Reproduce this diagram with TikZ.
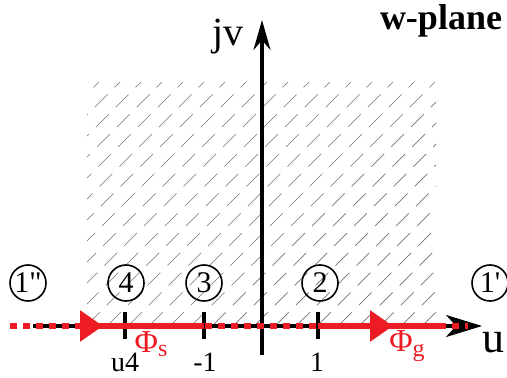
\documentclass[tikz,border=0pt]{standalone}
\usepackage{fontspec}
\setmainfont{Liberation Serif}
\usetikzlibrary{arrows.meta,decorations.markings}
\definecolor{flowred}{RGB}{237,28,36}

\begin{document}
\begin{tikzpicture}[x=0.5pt,y=-0.5pt,
  axis/.style={line width=1.6pt,black},
  tickmark/.style={line width=1.6pt,black},
  region/.style={draw,circle,line width=0.8pt,minimum size=18pt,inner sep=0pt,font=\fontsize{15}{15}\selectfont},
  hatch/.style={black!55,line width=0.35pt,dash pattern=on 9pt off 5pt},
  flowdash/.style={flowred,line width=3pt,dash pattern=on 3.5pt off 3pt},
  flow/.style={flowred,line width=3pt},
  tri/.style={postaction={decorate,decoration={markings,
    mark=at position #1 with {\arrow{Triangle[length=11.5pt,width=15pt]}}}}},
  ticklbl/.style={font=\fontsize{14}{14}\selectfont},
  flowlbl/.style={text=flowred,font=\fontsize{16}{16}\selectfont}
]
  \useasboundingbox (0,0) rectangle (507,378);

  % hatched half plane
  \begin{scope}
    \clip (87,83) rectangle (436,325);
    \foreach \k in {-12,...,17}
      \draw[hatch] (87+21*\k,325) -- ++(270,-270);
  \end{scope}

  % axes
  \coordinate (vbot) at (262,355);
  \coordinate (vtop) at (262,20);
  \coordinate (ubeg) at (33,326);
  \coordinate (uend) at (482,326);
  \draw[axis,-{Stealth[length=15pt,width=8.5pt]}] (vbot) -- (vtop);
  \draw[axis,-{Stealth[length=18pt,width=11pt,inset=5pt]}] (ubeg) -- (uend);

  % ticks
  \coordinate (u4) at (125,326);
  \coordinate (m1) at (204,326);
  \coordinate (p1) at (318,326);
  \foreach \t in {u4,m1,p1}
    \draw[tickmark] ([yshift=7pt]\t) -- ([yshift=-6.5pt]\t);

  % flow along the u axis
  \coordinate (rbeg) at (10,326);
  \coordinate (rend) at (468,326);
  \coordinate (sbeg) at (82,326);
  \coordinate (gend) at (445,326);
  \draw[flowdash] (rbeg) -- (rend);
  \draw[flow,tri=10.5pt] (sbeg) -- (m1);
  \draw[flow,tri=37.5pt] (p1) -- (gend);

  % region labels
  \node[region] (r1pp) at (28,283) {1\textquotedbl};
  \node[region] (r4) at (126,283) {4};
  \node[region] (r3) at (204,283) {3};
  \node[region] (r2) at (320,283) {2};
  \node[region] (r1p) at (490,283) {1\textquotesingle};

  % text
  \node[ticklbl] (lu4) at (125,362) {u4};
  \node[ticklbl] (lm1) at (205,362) {-1};
  \node[ticklbl] (lp1) at (317,362) {1};
  \node[flowlbl] (phis) at (151,344) {Φ\raisebox{-0.3ex}{\fontsize{12}{12}\selectfont s}};
  \node[flowlbl] (phig) at (407,346) {Φ\raisebox{-0.3ex}{\fontsize{12}{12}\selectfont g}};
  \node[font=\fontsize{22}{22}\selectfont] (ulbl) at (493,343) {u};
  \node[font=\fontsize{20}{20}\selectfont] (vlbl) at (228,37) {jv};
  \node[font=\fontsize{18}{18}\selectfont\bfseries] (plane) at (441,21) {w-plane};
\end{tikzpicture}
\end{document}
